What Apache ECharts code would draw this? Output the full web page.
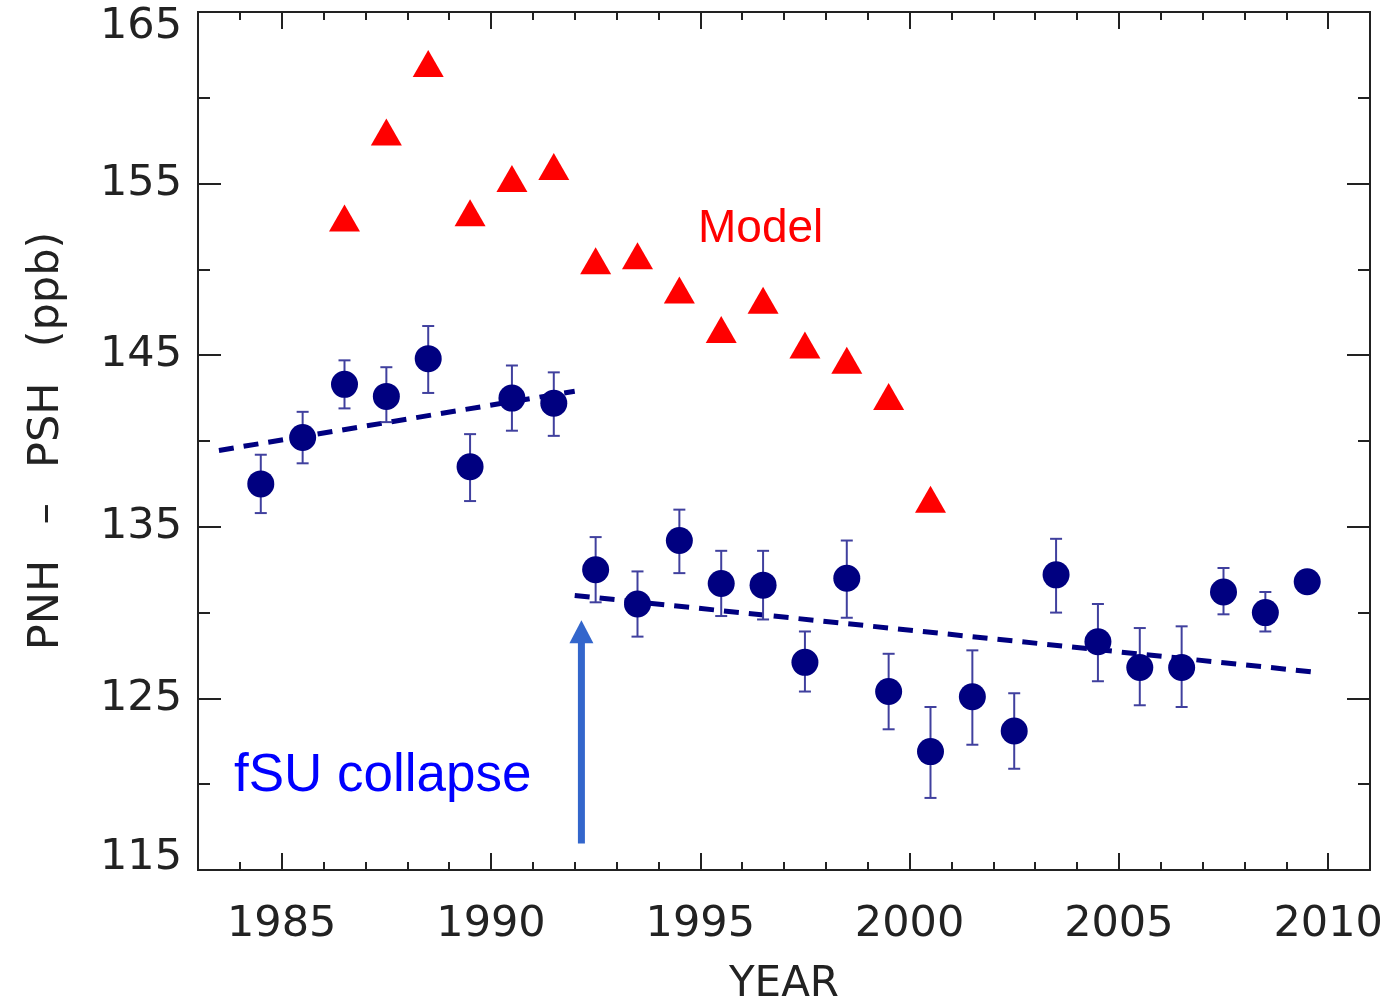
<!DOCTYPE html>
<html><head><meta charset="utf-8">
<script src="https://cdn.jsdelivr.net/npm/echarts@6/dist/echarts.min.js"></script>
<style>html,body{margin:0;padding:0;background:#fff}#c{width:1395px;height:1001px}</style>
</head><body><div id="c"></div>
<script>
// ---- data ----
const obsYears = [1984.5,1985.5,1986.5,1987.5,1988.5,1989.5,1990.5,1991.5,1992.5,1993.5,1994.5,1995.5,1996.5,1997.5,1998.5,1999.5,2000.5,2001.5,2002.5,2003.5,2004.5,2005.5,2006.5,2007.5,2008.5,2009.5];
const obsValues = [137.5,140.2,143.3,142.6,144.8,138.5,142.5,142.2,132.5,130.5,134.2,131.7,131.6,127.1,132.0,125.4,121.9,125.1,123.1,132.2,128.3,126.8,126.8,131.2,130.0,131.8];
const obsUpper = [139.2,141.7,144.7,144.3,146.7,140.4,144.4,144.0,134.4,132.4,136.0,133.6,133.6,128.9,134.2,127.6,124.5,127.8,125.3,134.3,130.5,129.1,129.2,132.6,131.2,null];
const obsLower = [135.8,138.7,141.9,141.1,142.8,136.5,140.6,140.3,130.6,128.6,132.3,129.8,129.6,125.4,129.7,123.2,119.2,122.3,120.9,130.0,126.0,124.6,124.5,129.9,128.9,null];
const modelYears = [1986.5,1987.5,1988.5,1989.5,1990.5,1991.5,1992.5,1993.5,1994.5,1995.5,1996.5,1997.5,1998.5,1999.5,2000.5];
const modelValues = [153.0,158.0,162.0,153.3,155.3,156.0,150.5,150.8,148.8,146.5,148.2,145.6,144.7,142.6,136.6];
const trendPre = [[1983.5,139.45],[1992.0,142.9]];
const trendPost = [[1992.0,131.0],[2009.8,126.5]];
const collapseArrow = [[1992.16, 116.55, 129.55]]; // year, arrow tail value, arrow tip value
const xMajorTicks = [1985,1990,1995,2000,2005,2010];
const xMinorTicks = [1984,1986,1987,1988,1989,1991,1992,1993,1994,1996,1997,1998,1999,2001,2002,2003,2004,2006,2007,2008,2009];
const yRange = [115,165];
const xRange = [1983,2011];

const AX = '#222';
const FONT = 'DejaVu Sans';
const chart = echarts.init(document.getElementById('c'), null, {renderer:'canvas'});

const gridRect = {left:198, top:12, right:25, bottom:131, containLabel:false, outerBoundsMode:'none'};
const lblStyle = {fontFamily:FONT, fontSize:43, color:AX};

function xAx(grid, pos, ticks, len, labels, name){
  const a = {
    type:'value', gridIndex:grid, position:pos, min:xRange[0], max:xRange[1],
    axisLine:{show:true, onZero:false, lineStyle:{color:AX, width:2}},
    axisTick:{show:true, inside:true, length:len, customValues:ticks, lineStyle:{color:AX, width:2}},
    axisLabel:{show:false},
    splitLine:{show:false}
  };
  if (labels) a.axisLabel = Object.assign({show:true, customValues:xMajorTicks, margin:33, formatter: v => String(v)}, lblStyle);
  if (name){ a.name = name; a.nameLocation='middle'; a.nameGap=94; a.nameTextStyle = Object.assign({}, lblStyle, {fontSize:42}); }
  return a;
}
function yAx(pos, labels){
  const a = {
    type:'value', gridIndex:0, position:pos, min:yRange[0], max:yRange[1], interval:10,
    axisLine:{show:true, onZero:false, lineStyle:{color:AX, width:2}},
    axisTick:{show:true, inside:true, length:23, lineStyle:{color:AX, width:2}},
    minorTick:{show:true, splitNumber:2, length:12, lineStyle:{color:AX, width:2}},
    axisLabel:{show:false}, splitLine:{show:false}, minorSplitLine:{show:false}
  };
  if (labels){
    a.axisLabel = {show:true, margin:16,
      formatter: v => v===yRange[1] ? '{t|'+v+'}' : (v===yRange[0] ? '{b|'+v+'}' : '{n|'+v+'}'),
      rich:{
        t:Object.assign({padding:[30,0,0,0]}, lblStyle),
        b:Object.assign({padding:[0,0,24,0]}, lblStyle),
        n:Object.assign({}, lblStyle)
      }};
    a.name = 'PNH \u2002\u2013 \u2002PSH \u2002(ppb)'; a.nameLocation='middle'; a.nameGap=130;
    a.nameTextStyle = Object.assign({}, lblStyle, {fontSize:43});
  }
  return a;
}

const errData = [];
obsYears.forEach((y,i)=>{ if (obsUpper[i]!=null) errData.push([y, obsLower[i], obsUpper[i]]); });

const option = {
  animation:false,
  backgroundColor:'#fff',
  grid:[Object.assign({}, gridRect), Object.assign({}, gridRect)],
  xAxis:[
    xAx(0,'bottom',xMajorTicks,17,true,'YEAR'),
    xAx(0,'top',xMajorTicks,17,false),
    xAx(1,'bottom',xMinorTicks,8,false),
    xAx(1,'top',xMinorTicks,8,false)
  ],
  yAxis:[
    yAx('left',true),
    yAx('right',false),
    {type:'value', gridIndex:1, min:yRange[0], max:yRange[1], show:false}
  ],
  graphic:[
    {type:'text', left:698, top:206, style:{text:'Model', fill:'#ff0000', font:'46px "Liberation Sans", Arial, sans-serif'}},
    {type:'text', left:234, top:750, style:{text:'fSU collapse', fill:'#0000ff', font:'53px "Liberation Sans", Arial, sans-serif'}}
  ],
  series:[
    {type:'line', name:'trendPre', data:trendPre, showSymbol:false, symbol:'none', z:3,
     lineStyle:{color:'#000080', width:5, type:[15,10]}},
    {type:'line', name:'trendPost', data:trendPost, showSymbol:false, symbol:'none', z:3,
     lineStyle:{color:'#000080', width:5, type:[15,10]}},
    {type:'custom', name:'arrow', data:collapseArrow, z:3, silent:true,
     encode:{x:0, y:[1,2]},
     renderItem:(params, api)=>{
       const x = api.value(0);
       const tail = api.coord([x, api.value(1)]);
       const tip = api.coord([x, api.value(2)]);
       const hw = 12, hh = 23;
       return {type:'group', children:[
         {type:'rect', shape:{x:tail[0]-3.5, y:tip[1]+hh-1, width:7, height:tail[1]-tip[1]-hh+1}, style:{fill:'#3366cc'}},
         {type:'polygon', shape:{points:[[tip[0], tip[1]],[tip[0]-hw, tip[1]+hh],[tip[0]+hw, tip[1]+hh]]}, style:{fill:'#3366cc'}}
       ]};
     }},
    {type:'custom', name:'err', data:errData, z:4,
     encode:{x:0, y:[1,2]},
     renderItem:(params, api)=>{
       const x = api.value(0);
       const lo = api.coord([x, api.value(1)]);
       const hi = api.coord([x, api.value(2)]);
       const cw = 6;
       const st = {stroke:'#40409e', lineWidth:2};
       return {type:'group', children:[
         {type:'line', shape:{x1:lo[0], y1:lo[1], x2:hi[0], y2:hi[1]}, style:st},
         {type:'line', shape:{x1:lo[0]-cw, y1:lo[1], x2:lo[0]+cw, y2:lo[1]}, style:st},
         {type:'line', shape:{x1:hi[0]-cw, y1:hi[1], x2:hi[0]+cw, y2:hi[1]}, style:st}
       ]};
     }},
    {type:'scatter', name:'Observed', data:obsYears.map((y,i)=>[y,obsValues[i]]), z:5,
     symbol:'circle', symbolSize:27, itemStyle:{color:'#000080', opacity:1}},
    {type:'scatter', name:'Model', data:modelYears.map((y,i)=>[y,modelValues[i]]), z:5,
     symbol:'triangle', symbolSize:[31,27], itemStyle:{color:'#ff0000', opacity:1}}
  ]
};
chart.setOption(option);
</script></body></html>
